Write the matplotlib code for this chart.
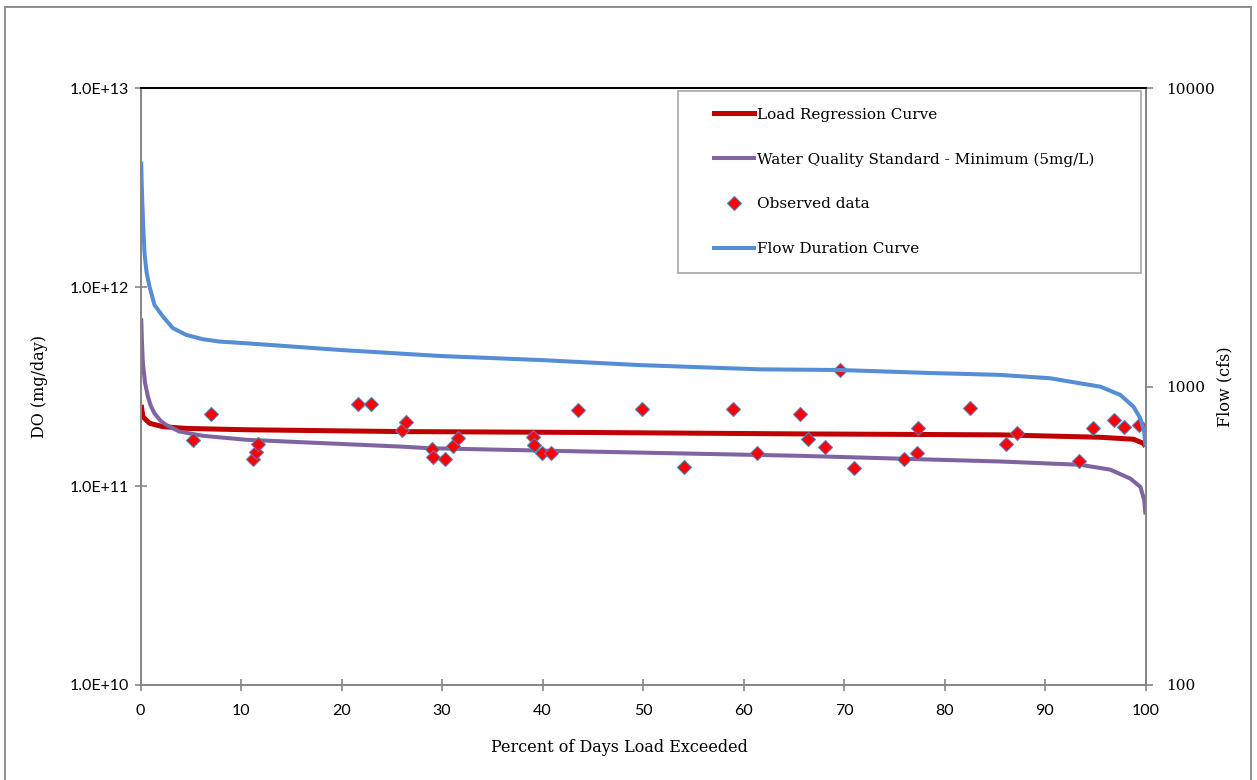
import matplotlib
matplotlib.use("Agg")
import numpy as np
import matplotlib.pyplot as plt
from matplotlib.patches import Rectangle
from matplotlib.lines import Line2D
from matplotlib.legend_handler import HandlerLine2D
from matplotlib.ticker import FixedLocator, FixedFormatter, NullLocator

# ---------------- data ----------------
# Load regression curve (left axis, mg/day)
reg_x = [0.07, 0.24, 0.9, 2.23, 4.55, 10.5, 25.9, 45.0, 65.6, 85.5, 93.5, 95.5, 98.8, 99.8, 100.0]
reg_y = [2.56e11, 2.23e11, 2.07e11, 1.99e11, 1.95e11, 1.92e11, 1.88e11, 1.86e11, 1.83e11, 1.81e11,
         1.77e11, 1.76e11, 1.72e11, 1.64e11, 1.58e11]

# Water quality standard - minimum 5 mg/L (left axis)
std_x = [0.07, 0.15, 0.24, 0.45, 0.74, 1.0, 1.39, 2.0, 2.56, 3.88, 6.21, 10.5, 25.9, 28.8, 45.0,
         65.6, 78.6, 85.5, 93.5, 96.5, 98.5, 99.5, 99.87, 100.0]
std_y = [6.98e11, 5.2e11, 4.14e11, 3.3e11, 2.82e11, 2.55e11, 2.32e11, 2.13e11, 2.03e11, 1.88e11,
         1.79e11, 1.71e11, 1.58e11, 1.55e11, 1.49e11, 1.42e11, 1.36e11, 1.33e11, 1.28e11, 1.21e11,
         1.09e11, 9.9e10, 8.5e10, 7.2e10]

# Observed data (left axis)
obs_x = [5.24, 7.03, 11.18, 11.51, 11.74, 21.69, 22.96, 26.01, 26.37, 28.99, 29.15, 30.32, 31.14,
         31.58, 39.10, 39.17, 39.94, 40.88, 43.52, 49.89, 54.10, 58.95, 61.33, 65.64, 66.37, 68.06,
         69.62, 71.01, 75.99, 77.31, 77.41, 82.56, 86.11, 87.26, 93.40, 94.73, 96.82, 97.88, 99.37]
obs_y = [1.71e11, 2.30e11, 1.37e11, 1.49e11, 1.63e11, 2.58e11, 2.58e11, 1.91e11, 2.11e11, 1.54e11,
         1.40e11, 1.37e11, 1.59e11, 1.75e11, 1.77e11, 1.61e11, 1.47e11, 1.47e11, 2.41e11, 2.45e11,
         1.25e11, 2.45e11, 1.47e11, 2.30e11, 1.73e11, 1.57e11, 3.84e11, 1.23e11, 1.37e11, 1.47e11,
         1.95e11, 2.48e11, 1.62e11, 1.85e11, 1.34e11, 1.95e11, 2.15e11, 1.99e11, 2.03e11]

# Flow duration curve (right axis, cfs)
flow_x = [0.07, 0.12, 0.17, 0.28, 0.4, 0.6, 0.9, 1.39, 2.23, 3.22, 4.55, 6.21, 7.86, 10.5, 19.9,
          29.8, 39.8, 49.7, 61.6, 69.6, 78.6, 85.5, 90.5, 93.5, 95.5, 97.5, 98.8, 99.47, 99.87, 100.0]
flow_y = [5675, 4800, 4225, 3400, 2805, 2420, 2163, 1879, 1718, 1571, 1491, 1442, 1416, 1398, 1327,
          1267, 1228, 1181, 1143, 1137, 1111, 1095, 1067, 1026, 1000, 938, 857, 785, 706, 630]

x_ticks = [0, 10, 20, 30, 40, 50, 60, 70, 80, 90, 100]
left_ticks = [1e10, 1e11, 1e12, 1e13]
left_labels = ["1.0E+10", "1.0E+11", "1.0E+12", "1.0E+13"]
right_ticks = [100, 1000, 10000]
right_labels = ["100", "1000", "10000"]

labels = ["Load Regression Curve", "Water Quality Standard - Minimum (5mg/L)",
          "Observed data", "Flow Duration Curve"]

# ---------------- style ----------------
SANS = ["Lato", "DejaVu Sans"]
SERIF = ["DejaVu Serif"]
GRAY = "#868686"
RED = "#C00000"
PURPLE = "#8064A2"
BLUE = "#558ED5"
MS = 6.8

W, H = 1257, 780
fig = plt.figure(figsize=(W / 100, H / 100), dpi=100)
fig.patch.set_facecolor("white")

# outer frame
fig.patches.append(Rectangle((4.5 / W, -0.02), (1250.5 - 4.5) / W, 1 - 6.5 / H + 0.02,
                             transform=fig.transFigure, fill=False, edgecolor=GRAY,
                             linewidth=1.3, zorder=0))

l, r, t, b = 140.5, 1145.5, 88.3, 685.0
ax = fig.add_axes([l / W, 1 - b / H, (r - l) / W, (b - t) / H])
ax.set_xlim(0, 100)
ax.set_yscale("log")
ax.set_ylim(1e10, 1e13)

ax.plot(reg_x, reg_y, color=RED, lw=3.6, solid_capstyle="butt", zorder=2)
ax.plot(std_x, std_y, color=PURPLE, lw=2.9, solid_capstyle="butt", zorder=3)
ax.plot(obs_x, obs_y, linestyle="none", marker="D", markersize=MS,
        markerfacecolor="#FF0000", markeredgecolor="#4F81BD", markeredgewidth=0.8, zorder=4)

ax2 = ax.twinx()
ax2.set_yscale("log")
ax2.set_ylim(100, 10000)
ax2.plot(flow_x, flow_y, color=BLUE, lw=2.9, solid_capstyle="butt", zorder=2)

# spines
for a in (ax, ax2):
    for s in ("left", "right", "bottom"):
        a.spines[s].set_color(GRAY)
        a.spines[s].set_linewidth(1.3)
    a.spines["top"].set_color("black")
    a.spines["top"].set_linewidth(1.3)

ax.xaxis.set_major_locator(FixedLocator(x_ticks))
ax.set_xticklabels([str(v) for v in x_ticks], fontfamily=SANS, fontsize=11.5)
ax.yaxis.set_major_locator(FixedLocator(left_ticks))
ax.yaxis.set_major_formatter(FixedFormatter(left_labels))
ax.yaxis.set_minor_locator(NullLocator())
for lab in ax.get_yticklabels():
    lab.set_fontfamily(SANS)
    lab.set_fontsize(11.5)
ax.tick_params(axis="both", which="major", direction="inout", length=9, width=1.2,
               color=GRAY, labelcolor="black")
ax.tick_params(axis="x", pad=9)
ax.tick_params(axis="y", pad=4)

ax2.yaxis.set_major_locator(FixedLocator(right_ticks))
ax2.yaxis.set_major_formatter(FixedFormatter(right_labels))
ax2.yaxis.set_minor_locator(NullLocator())
for lab in ax2.get_yticklabels():
    lab.set_fontfamily(SERIF)
    lab.set_fontsize(11)
ax2.tick_params(axis="y", which="major", direction="out", length=5, width=1.2,
                color=GRAY, labelcolor="black", pad=10)

ax.set_xlabel("Percent of Days Load Exceeded", fontfamily=SERIF, fontsize=11.5)
ax.xaxis.set_label_coords((619 - l) / (r - l), -(748 - b) / (b - t), transform=ax.transAxes)
ax.xaxis.label.set_va("center")
ax.set_ylabel("DO (mg/day)", fontfamily=SERIF, fontsize=11.5)
ax.yaxis.set_label_coords(-(l - 40) / (r - l), 0.5)
ax.yaxis.label.set_va("center")
ax2.set_ylabel("Flow (cfs)", fontfamily=SERIF, fontsize=11.5)
ax2.yaxis.set_label_coords(1 + (1225 - r) / (r - l), 0.5)
ax2.yaxis.label.set_va("center")


# legend: handles sit a little right of the frame edge, as in the reference
class LeadHandler(HandlerLine2D):
    def __init__(self, lead_px, **kw):
        super().__init__(numpoints=1, **kw)
        self.lead_px = lead_px

    def get_xdata(self, legend, xdescent, ydescent, width, height, fontsize):
        x0 = -xdescent + self.lead_px * 72 / 100
        x1 = -xdescent + width
        return np.array([x0, x1]), np.array([(x0 + x1) / 2])


handles = [
    Line2D([], [], color=RED, lw=3.6),
    Line2D([], [], color=PURPLE, lw=2.9),
    Line2D([], [], linestyle="none", marker="D", markersize=MS, markerfacecolor="#FF0000",
           markeredgecolor="#4F81BD", markeredgewidth=0.8),
    Line2D([], [], color=BLUE, lw=2.9),
]
fs = 11.0
fs_px = fs * 100 / 72
leg_x0, leg_x1, leg_top = 678.0, 1141.0, 91.0
bpad = 1.1
pad_px = bpad * fs_px
handle_len = (754 - leg_x0 - pad_px) / fs_px
lead = 714 - leg_x0 - pad_px
leg = ax2.legend(handles, labels, loc="upper left", mode="expand",
                 bbox_to_anchor=((leg_x0 - l) / (r - l), (b - leg_top) / (b - t),
                                 (leg_x1 - leg_x0) / (r - l), 0.0),
                 prop={"family": SERIF, "size": fs}, frameon=True, fancybox=False,
                 edgecolor="#A6A6A6", framealpha=1, borderpad=bpad, labelspacing=2.0,
                 handlelength=handle_len, handletextpad=0.2, borderaxespad=0,
                 handler_map={h: LeadHandler(lead) for h in handles})
leg.get_frame().set_linewidth(1.2)

fig.savefig("out.png", dpi=100, facecolor="white")
